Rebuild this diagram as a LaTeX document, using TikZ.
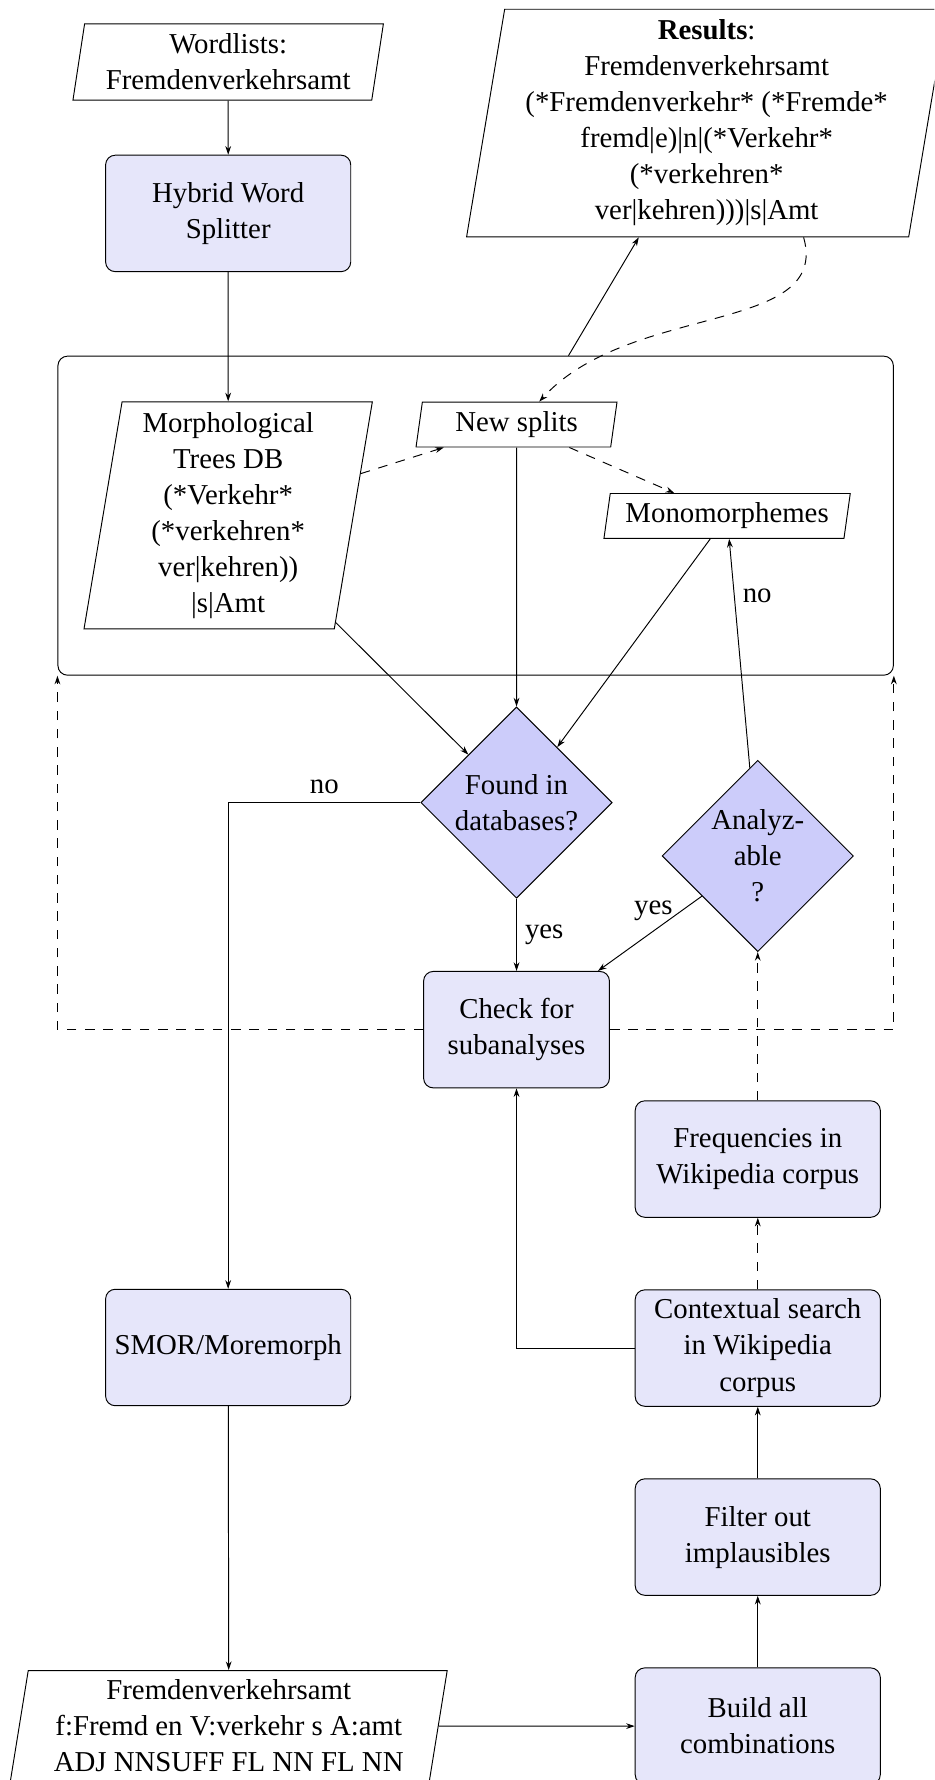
\documentclass[tikz,border=0pt]{standalone}
\usepackage{fontspec}
\setmainfont{Liberation Serif}
\usetikzlibrary{shapes.geometric,arrows.meta,calc}
\definecolor{boxfill}{RGB}{230,230,250}
\definecolor{decfill}{RGB}{204,204,250}
\begin{document}
\begin{tikzpicture}[x=0.47287pt,y=-0.47287pt,
  font=\fontsize{12}{15}\selectfont,
  line width=0.4pt,
  >={Stealth[length=3.6pt,width=2.4pt]},
  proc/.style={draw, rounded corners=4pt, fill=boxfill, align=center,
    minimum width=102.1pt, minimum height=48.5pt, inner sep=2pt},
  io/.style={draw, trapezium, trapezium left angle=80, trapezium right angle=100,
    trapezium stretches body, align=center, inner sep=2pt},
  dec/.style={draw, diamond, fill=decfill, align=center, inner sep=0pt,
    minimum width=79.7pt, minimum height=79.7pt},
  dsh/.style={dash pattern=on 4pt off 3.6pt}]
\clip (0,0) rectangle (823,1568);
% container
\node[draw, rounded corners=4pt, minimum width=348pt, minimum height=132.9pt] (big) at (419,454.25) {};
% nodes
\node[io, minimum width=129.3pt, minimum height=31.7pt] (words) at (201,54.6) {Wordlists:\\Fremdenverkehrsamt};
\node[proc] (hybrid) at (201,188) {Hybrid Word\\Splitter};
\node[io, minimum width=200pt, minimum height=94.8pt] (results) at (622.5,108.4)
  {\textbf{Results}:\\Fremdenverkehrsamt\\(*Fremdenverkehr* (*Fremde*\\fremd|e)|n|(*Verkehr*\\(*verkehren*\\ver|kehren)))|s|Amt};
\node[io, minimum width=120.1pt, minimum height=94.6pt] (morph) at (201,454)
  {Morphological\\Trees DB\\(*Verkehr*\\(*verkehren*\\ver|kehren))\\|s|Amt};
\node[io, minimum width=83.7pt, minimum height=18.7pt] (newsplits) at (455,374) {New splits};
\node[io, minimum width=102.6pt, minimum height=18.7pt] (mono) at (640.5,454.5) {Monomorphemes};
\node[dec] (found) at (455,707) {Found in\\databases?};
\node[dec] (analyz) at (667.5,754) {Analyz-\\able\\?};
\node[proc, minimum width=77.4pt] (check) at (455,907) {Check for\\subanalyses};
\node[proc] (freq) at (667.5,1021) {Frequencies in\\Wikipedia corpus};
\node[proc] (smor) at (201,1187) {SMOR/Moremorph};
\node[proc] (context) at (667.5,1187.5) {Contextual search\\in Wikipedia\\corpus};
\node[proc] (filter) at (667.5,1354) {Filter out\\implausibles};
\node[proc] (build) at (667.5,1520.5) {Build all\\combinations};
\node[io, minimum width=182pt, minimum height=46.3pt] (bottom) at (201.5,1520.5)
  {Fremdenverkehrsamt\\f:Fremd en V:verkehr s A:amt\\ADJ NNSUFF FL NN FL NN};
% connectors
\draw[->] (words) -- (hybrid);
\draw[->] (hybrid) -- (morph);
\coordinate (bigtop) at ($(big.north west)!0.611!(big.north east)$);
\draw[->] (bigtop) -- (results);
\coordinate (rstart) at ($(results.bottom left corner)!0.762!(results.bottom right corner)$);
\coordinate (nsin) at ($(newsplits.north)+(20,0)$);
\draw[dsh,->] (rstart) .. controls (732,295) and (555,266) .. (nsin);
\draw[dsh,->] (morph) -- (newsplits);
\draw[dsh,->] (newsplits) -- (mono);
\draw[->] (newsplits) -- (found);
\draw[->] (morph) -- (found);
\draw[->] (mono) -- (found);
\draw[->] (analyz) -- node[pos=0.75,right] {no} (mono);
\draw[->] (found.west) -| node[pos=0.25,above] {no} (smor.north);
\draw[->] (found) -- node[right] {yes} (check);
\draw[->] (analyz) -- node[pos=0.2,left] {yes} (check);
\draw[dsh,->] (freq) -- (analyz);
\draw[dsh,->] (context) -- (freq);
\draw[->] (context.west) -| (check.south);
\draw[->] (filter) -- (context);
\draw[->] (build) -- (filter);
\draw[->] (smor) -- (bottom);
\draw[->] (bottom) -- (build);
\draw[dsh,->] (check.west) -| (big.south west);
\draw[dsh,->] (check.east) -| (big.south east);
\end{tikzpicture}
\end{document}
